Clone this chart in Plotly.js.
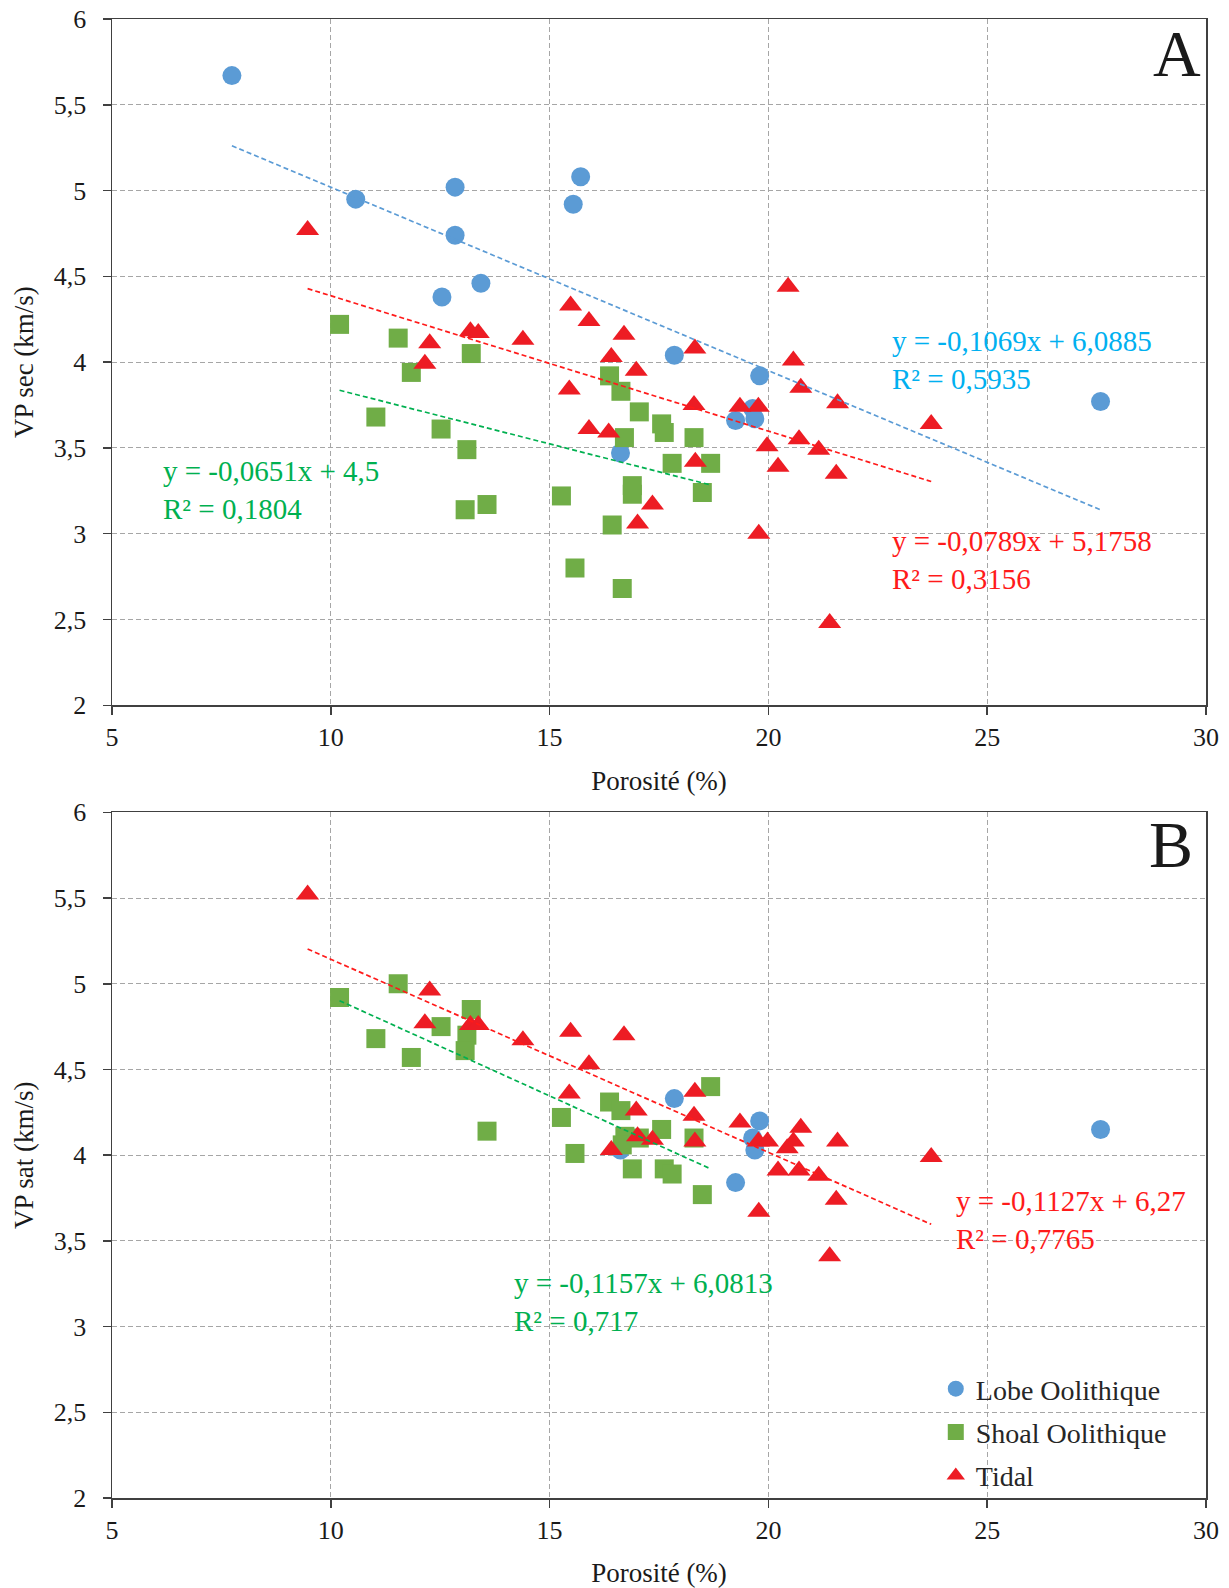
<!DOCTYPE html>
<html>
<head>
<meta charset="utf-8">
<script src="https://cdn.plot.ly/plotly-3.0.1.min.js"></script>
<style>html,body{margin:0;padding:0;background:#fff;}#chart{width:1229px;height:1588px;}</style>
</head>
<body>
<div id="chart"></div>
<script>
// ---------- Data ----------
const seriesNames = ['Lobe Oolithique', 'Shoal Oolithique', 'Tidal'];

// Panel A : VP sec
const lobeA_x = [7.74,10.57,12.84,12.84,13.43,12.54,15.71,15.54,17.85,19.80,19.64,19.25,19.69,16.62,27.59];
const lobeA_y = [5.67,4.95,5.02,4.74,4.46,4.38,5.08,4.92,4.04,3.92,3.73,3.66,3.67,3.47,3.77];
const shoalA_x = [10.20,11.54,13.21,11.84,11.03,12.52,13.11,13.07,13.57,16.37,16.63,17.05,17.56,17.62,16.71,18.30,17.80,18.68,16.89,16.89,18.49,15.27,16.43,15.58,16.66];
const shoalA_y = [4.22,4.14,4.05,3.94,3.68,3.61,3.49,3.14,3.17,3.92,3.83,3.71,3.64,3.59,3.56,3.56,3.41,3.41,3.28,3.23,3.24,3.22,3.05,2.80,2.68];
const tidalA_x = [9.47,12.26,13.19,13.37,14.39,12.15,20.45,15.48,15.90,16.70,18.32,16.41,16.98,20.57,20.74,21.58,23.72,15.45,18.30,19.35,19.77,15.90,16.35,19.97,20.70,21.15,18.33,20.22,21.55,17.35,17.01,19.78,21.40];
const tidalA_y = [4.77,4.11,4.18,4.17,4.13,3.99,4.44,4.33,4.24,4.16,4.08,4.03,3.95,4.01,3.85,3.76,3.64,3.84,3.75,3.74,3.74,3.61,3.59,3.51,3.55,3.49,3.42,3.39,3.35,3.17,3.06,3.00,2.48];

// Panel B : VP sat
const lobeB_x = [17.85,19.80,19.64,19.69,19.25,16.62,27.59];
const lobeB_y = [4.33,4.20,4.10,4.03,3.84,4.03,4.15];
const shoalB_x = [10.20,11.54,11.03,11.84,13.21,12.52,13.11,13.07,13.57,16.37,16.63,15.27,18.68,17.56,18.30,16.72,16.66,17.05,15.58,16.89,17.62,17.80,18.49];
const shoalB_y = [4.92,5.00,4.68,4.57,4.85,4.75,4.70,4.61,4.14,4.31,4.26,4.22,4.40,4.15,4.10,4.11,4.06,4.10,4.01,3.92,3.92,3.89,3.77];
const tidalB_x = [9.47,12.26,12.15,13.19,13.37,14.39,15.48,16.70,15.90,15.45,18.32,16.98,18.30,19.35,20.74,21.58,20.57,20.43,19.77,19.98,18.32,17.01,17.35,16.41,20.22,20.70,21.15,21.55,19.78,21.40,23.72];
const tidalB_y = [5.52,4.96,4.77,4.76,4.76,4.67,4.72,4.70,4.53,4.36,4.37,4.26,4.23,4.19,4.16,4.08,4.08,4.04,4.08,4.08,4.08,4.11,4.09,4.03,3.91,3.91,3.88,3.74,3.67,3.41,3.99];

// Linear trend lines (equations printed on the chart)
const trendA_slope = [-0.1069, -0.0651, -0.0789];   // lobe, shoal, tidal
const trendA_inter = [6.0885, 4.5, 5.1758];
const trendA_text = ['y = -0,1069x + 6,0885<br>R² = 0,5935', 'y = -0,0651x + 4,5<br>R² = 0,1804', 'y = -0,0789x + 5,1758<br>R² = 0,3156'];
const trendB_slope = [-0.1157, -0.1127];             // shoal, tidal
const trendB_inter = [6.0813, 6.27];
const trendB_text = ['y = -0,1157x + 6,0813<br>R² = 0,717', 'y = -0,1127x + 6,27<br>R² = 0,7765'];

const xTicks = [5,10,15,20,25,30];
const yTicks = [2,2.5,3,3.5,4,4.5,5,5.5,6];

// ---------- Styles ----------
const FONT = "'Liberation Serif', 'Times New Roman', serif";
const C_BLUE = '#5B9BD5', C_GREEN = '#70AD47', C_RED = '#ED1C24';
const T_BLUE = '#00B0F0', T_GREEN = '#00B050', T_RED = '#FF1A1A';
const L_BLUE = '#5B9BD5', L_GREEN = '#00B050', L_RED = '#FF1A1A';

function pts(x, y, name, sym, color, size, xa, ya, leg) {
  return {x: x, y: y, name: name, type: 'scatter', mode: 'markers', xaxis: xa, yaxis: ya,
    showlegend: leg, legendgroup: name,
    marker: {symbol: sym, color: color, size: size, line: {width: 0}}, hoverinfo: 'x+y'};
}
function trend(xs, slope, inter, color, xa, ya) {
  const xmin = Math.min.apply(null, xs), xmax = Math.max.apply(null, xs);
  return {x: [xmin, xmax], y: [slope*xmin+inter, slope*xmax+inter], type: 'scatter', mode: 'lines',
    xaxis: xa, yaxis: ya, showlegend: false, hoverinfo: 'skip',
    line: {color: color, width: 1.7, dash: '5px,3px'}};
}

const traces = [
  pts(lobeA_x, lobeA_y, seriesNames[0], 'circle', C_BLUE, 19, 'x', 'y', false),
  pts(shoalA_x, shoalA_y, seriesNames[1], 'square', C_GREEN, 19, 'x', 'y', false),
  pts(tidalA_x, tidalA_y, seriesNames[2], 'triangle-up', C_RED, 20, 'x', 'y', false),
  trend(lobeA_x, trendA_slope[0], trendA_inter[0], L_BLUE, 'x', 'y'),
  trend(shoalA_x, trendA_slope[1], trendA_inter[1], L_GREEN, 'x', 'y'),
  trend(tidalA_x, trendA_slope[2], trendA_inter[2], L_RED, 'x', 'y'),
  pts(lobeB_x, lobeB_y, seriesNames[0], 'circle', C_BLUE, 19, 'x2', 'y2', true),
  pts(shoalB_x, shoalB_y, seriesNames[1], 'square', C_GREEN, 19, 'x2', 'y2', true),
  pts(tidalB_x, tidalB_y, seriesNames[2], 'triangle-up', C_RED, 20, 'x2', 'y2', true),
  trend(shoalB_x, trendB_slope[0], trendB_inter[0], L_GREEN, 'x2', 'y2'),
  trend(tidalB_x, trendB_slope[1], trendB_inter[1], L_RED, 'x2', 'y2')
];

function xax(anchor, title) {
  return {domain: [0,1], anchor: anchor, range: [5,30], tickvals: xTicks, ticktext: xTicks.map(String),
    ticks: 'outside', ticklen: 8, tickcolor: '#404040', tickwidth: 1.5,
    showline: true, linecolor: '#404040', linewidth: 1.5, mirror: true,
    showgrid: true, gridcolor: '#a6a6a6', gridwidth: 1, griddash: '5px,3px', zeroline: false,
    tickfont: {family: FONT, size: 26, color: '#1a1a1a'},
    title: {text: title, font: {family: FONT, size: 27, color: '#1a1a1a'}, standoff: 20}};
}
function yax(anchor, domain, title) {
  return {domain: domain, anchor: anchor, range: [2,6], tickvals: yTicks,
    ticktext: yTicks.map(v => String(v).replace('.', ',')),
    ticks: 'outside', ticklen: 8, tickcolor: '#404040', tickwidth: 1.5, ticklabelstandoff: 11,
    showline: true, linecolor: '#404040', linewidth: 1.5, mirror: true,
    showgrid: true, gridcolor: '#a6a6a6', gridwidth: 1, griddash: '5px,3px', zeroline: false,
    tickfont: {family: FONT, size: 26, color: '#1a1a1a'},
    title: {text: title, font: {family: FONT, size: 27, color: '#1a1a1a'}, standoff: 12}};
}

function ann(text, xref, yref, x, y, color, size, xanchor) {
  return {text: text, xref: xref, yref: yref, x: x, y: y, showarrow: false, xanchor: xanchor,
    yanchor: 'middle', align: 'left', font: {family: FONT, size: size, color: color}};
}

const layout = {
  width: 1229, height: 1588,
  margin: {l: 112, r: 23, t: 19, b: 90},
  paper_bgcolor: '#ffffff', plot_bgcolor: '#ffffff',
  separators: ', ',
  showlegend: true,
  legend: {x: 0.753, y: -0.002, xanchor: 'left', yanchor: 'bottom', bgcolor: 'rgba(255,255,255,0)',
    font: {family: FONT, size: 28, color: '#262626'}, tracegroupgap: 4, itemwidth: 30},
  xaxis: xax('y', 'Porosité (%)'),
  yaxis: yax('x', [0.536, 1], 'VP sec (km/s)'),
  xaxis2: xax('y2', 'Porosité (%)'),
  yaxis2: yax('x2', [0, 0.4636], 'VP sat (km/s)'),
  annotations: [
    ann('A', 'x', 'y', 29.34, 5.80, '#1a1a1a', 66, 'center'),
    ann('B', 'x2', 'y2', 29.2, 5.81, '#1a1a1a', 66, 'center'),
    ann(trendA_text[0], 'x', 'y', 22.78, 4.015, T_BLUE, 29, 'left'),
    ann(trendA_text[1], 'x', 'y', 6.12, 3.254, T_GREEN, 29, 'left'),
    ann(trendA_text[2], 'x', 'y', 22.78, 2.845, T_RED, 29, 'left'),
    ann(trendB_text[0], 'x2', 'y2', 14.13, 3.146, T_GREEN, 29, 'left'),
    ann(trendB_text[1], 'x2', 'y2', 24.23, 3.624, T_RED, 29, 'left')
  ]
};

Plotly.newPlot('chart', traces, layout, {displayModeBar: false, staticPlot: true});
</script>
</body>
</html>
